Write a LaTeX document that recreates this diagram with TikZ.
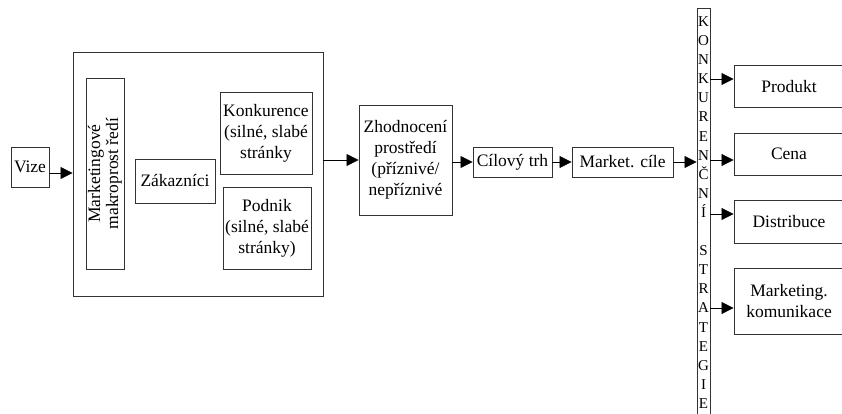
\documentclass[tikz,border=0pt]{standalone}
\usepackage{fontspec}
\setmainfont{Liberation Serif}
\usetikzlibrary{arrows.meta}
\usetikzlibrary{positioning}

\begin{document}
\begin{tikzpicture}[
		x=1pt, y=-1pt,
		box/.style={draw=black!80, rectangle, line width=0.9pt, inner sep=1pt, align=center, font=\fontsize{17.5}{21}\selectfont},
		arrow/.style={-{Triangle[length=12pt,width=12pt]}, line width=0.8pt}
		]
		\useasboundingbox (0,0) rectangle (842,414);
		\clip (0,0) rectangle (842,414);
		
		% Vize a marketingové prostředí
		\node[box, minimum width=38, minimum height=40] (vize) at (30,167) {Vize};
		\node[box, minimum width=250, minimum height=244] (prostredi) at (198,174) {};
		\node[box, rotate=90, minimum width=191, minimum height=38, inner sep=0pt, font=\fontsize{17.5}{18}\selectfont] (makro) at (105,173.5) {Marketingové\\makroprost ředí};
		\node[box, minimum width=80, minimum height=44] (zakaznici) at (175,181) {Zákazníci};
		\node[box, minimum width=92, minimum height=82] (konkurence) at (266,133) {Konkurence\\(silné, slabé\\stránky};
		\node[box, minimum width=88, minimum height=82] (podnik) at (267,228) {Podnik\\(silné, slabé\\stránky)};
		
		% Hlavní řetězec
		\node[box, minimum width=93, minimum height=110] (zhodnoceni) at (405.5,160) {Zhodnocení\\prostředí\\(příznivé/\\nepříznivé};
		\node[box, minimum width=79, minimum height=30] (cilovy) at (512.5,162) {Cílový trh};
		\node[box, minimum width=101, minimum height=30] (cile) at (622.5,162) {Market. cíle};
		
		% Konkurenční strategie
		\node[box, minimum width=13, minimum height=416, inner sep=0pt, font=\fontsize{15}{19.1}\selectfont] (strategie) at (703.5,216) {};
		\node[inner sep=0pt, align=center, font=\fontsize{15}{19.1}\selectfont] (strategietext) at (703.5,212.5) {K\\O\\N\\K\\U\\R\\E\\N\\Č\\N\\Í\\\mbox{}\\S\\T\\R\\A\\T\\E\\G\\I\\E};
		
		% Marketingový mix
		\node[box, minimum width=110, minimum height=42] (produkt) at (789,86.5) {Produkt};
		\node[box, minimum width=110, minimum height=42] (cena) at (789,154) {Cena};
		\node[box, minimum width=110, minimum height=43] (distribuce) at (789,222) {Distribuce};
		\node[box, minimum width=110, minimum height=66] (komunikace) at (789,301) {Marketing.\\komunikace};
		
		% Šipky
		\coordinate (vizeout) at ([yshift=-6pt]vize.east);
		\draw[arrow] (vizeout) -- (vizeout -| prostredi.west);
		\draw[arrow] (zhodnoceni.west -| prostredi.east) -- (zhodnoceni.west);
		\draw[arrow] (cilovy.west -| zhodnoceni.east) -- (cilovy.west);
		\draw[arrow] (cilovy) -- (cile);
		\draw[arrow] (cile.east) -- (cile.east -| strategie.west);
		
		\coordinate (produktin) at ([yshift=7.5pt]produkt.west);
		\coordinate (cenain) at ([yshift=-6pt]cena.west);
		\coordinate (distribucein) at ([yshift=8pt]distribuce.west);
		\coordinate (komunikacein) at ([yshift=-7pt]komunikace.west);
		\draw[arrow] (produktin -| strategie.east) -- (produktin);
		\draw[arrow] (cenain -| strategie.east) -- (cenain);
		\draw[arrow] (distribucein -| strategie.east) -- (distribucein);
		\draw[arrow] (komunikacein -| strategie.east) -- (komunikacein);
		
	\end{tikzpicture}
\end{document}
